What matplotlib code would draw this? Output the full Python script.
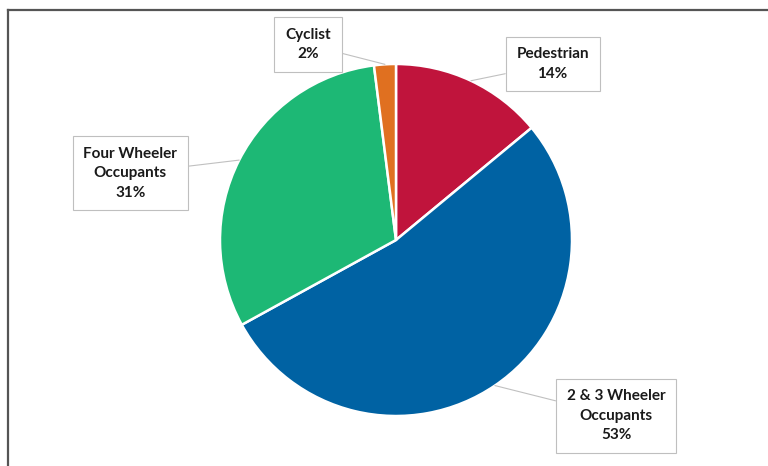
import matplotlib.pyplot as plt
from matplotlib.lines import Line2D
import numpy as np

# slices, clockwise from 12 o'clock
labels = ['Pedestrian', '2 & 3 Wheeler\nOccupants', 'Four Wheeler\nOccupants', 'Cyclist']
shares = [14, 53, 31, 2]
colors = ['#C0143C', '#0062A3', '#1DB875', '#E07020']

# label box centres in data units (pie radius = 1)
label_pos = [(0.89, 1.0), (1.25, -1.0), (-1.51, 0.38), (-0.50, 1.11)]

W, H = 768, 466
fig = plt.figure(figsize=(W / 100, H / 100), dpi=100)

cx, cy, r = 396, 240, 176
ax = fig.add_axes([(cx - r) / W, (H - cy - r) / H, 2 * r / W, 2 * r / H])

wedges, _ = ax.pie(shares, colors=colors, startangle=90, counterclock=False,
                   wedgeprops=dict(edgecolor='white', linewidth=1.8))
ax.set_xlim(-1, 1)
ax.set_ylim(-1, 1)
ax.set_aspect('equal')

for w, lab, val, pos in zip(wedges, labels, shares, label_pos):
    ang = np.deg2rad((w.theta1 + w.theta2) / 2)
    pt = (np.cos(ang), np.sin(ang))
    ax.annotate(f'{lab}\n{val}%', xy=pt, xytext=pos, ha='center', va='center',
                fontsize=11, fontweight='bold', family='Lato', color='#1a1a1a',
                linespacing=1.5, annotation_clip=False,
                bbox=dict(boxstyle='square,pad=0.7', fc='white', ec='#bfbfbf', lw=0.8),
                arrowprops=dict(arrowstyle='-', color='#c0c0c0', lw=0.8,
                                shrinkA=0, shrinkB=0))

# outer frame (only top and left edges are visible in the crop)
fig.add_artist(Line2D([8 / W, 1], [1 - 10 / H, 1 - 10 / H], color='#555555', lw=1.6))
fig.add_artist(Line2D([8 / W, 8 / W], [0, 1 - 10 / H], color='#555555', lw=1.6))

fig.savefig('out.png', dpi=100)
